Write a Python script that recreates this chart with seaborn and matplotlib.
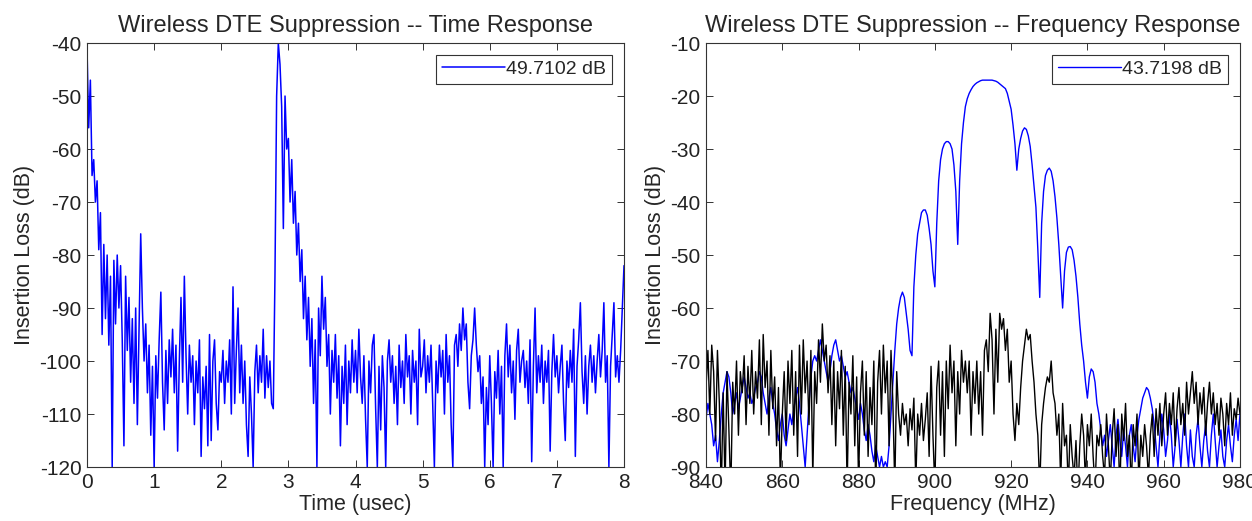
import numpy as np
import pandas as pd
import matplotlib
matplotlib.use("Agg")
from matplotlib import pyplot as plt
import seaborn as sns

# Time response (left): insertion loss sampled every 0.025 usec, 0..8 usec
time_start, time_end = 0.0, 8.0
time_loss_db = [
    -41, -56, -47, -65, -62, -70, -66, -79, -72, -95, -78, -92, -80, -97, -84, -120, -81, -93, -80, -90,
    -82, -96, -116, -84, -98, -88, -104, -92, -108, -90, -112, -94, -76, -90, -100, -93, -106, -97, -114, -101,
    -120, -99, -107, -96, -87, -104, -113, -98, -108, -96, -103, -94, -106, -97, -117, -100, -88, -104, -84, -99,
    -110, -97, -104, -99, -112, -100, -106, -96, -118, -103, -109, -101, -116, -95, -115, -100, -96, -108, -113, -102,
    -104, -98, -108, -100, -104, -96, -110, -86, -108, -98, -90, -106, -97, -108, -100, -112, -118, -103, -110, -120,
    -102, -97, -106, -99, -104, -94, -107, -99, -105, -100, -108, -109, -84, -50, -40, -44, -52, -75, -50, -60,
    -58, -70, -62, -74, -68, -80, -74, -85, -79, -92, -84, -96, -88, -101, -92, -108, -96, -120, -90, -99,
    -84, -94, -88, -101, -95, -110, -98, -104, -95, -107, -99, -116, -101, -108, -97, -112, -100, -106, -96, -104,
    -98, -106, -94, -103, -108, -99, -111, -120, -100, -106, -97, -95, -109, -120, -101, -113, -99, -105, -120, -100,
    -96, -104, -99, -108, -101, -112, -97, -105, -100, -108, -95, -103, -99, -110, -98, -104, -100, -112, -94, -103,
    -101, -96, -106, -99, -104, -97, -108, -120, -100, -106, -97, -103, -98, -110, -95, -104, -99, -112, -120, -97,
    -95, -101, -93, -98, -90, -96, -93, -104, -109, -99, -96, -90, -97, -102, -99, -108, -103, -120, -105, -112,
    -99, -108, -120, -102, -107, -98, -110, -101, -120, -99, -93, -103, -97, -106, -100, -111, -98, -94, -104, -100,
    -98, -105, -100, -108, -96, -119, -101, -90, -106, -99, -104, -97, -108, -100, -104, -98, -117, -102, -95, -103,
    -99, -106, -101, -97, -108, -115, -100, -105, -98, -104, -94, -118, -101, -96, -89, -102, -108, -99, -110, -101,
    -97, -104, -99, -106, -100, -95, -103, -98, -89, -104, -99, -120, -101, -95, -89, -103, -99, -104, -98, -90,
    -82,
]

# Frequency response (right): sampled every 0.5 MHz, 840..980 MHz
freq_start, freq_end = 840.0, 980.0
filter_db = [
    -81, -78, -80, -82, -86, -84, -89, -85, -80, -76,
    -74, -72, -73, -76, -80, -78, -76, -79, -77, -75,
    -73, -75, -77, -76, -78, -77, -75, -74, -72, -73,
    -76, -78, -80, -77, -75, -78, -80, -83, -85, -82,
    -80, -84, -86, -83, -80, -82, -79, -77, -75, -78,
    -82, -86, -90, -84, -78, -73, -70, -69, -70, -68,
    -66, -68, -70, -72, -74, -72, -69, -67, -66, -68,
    -70, -69, -71, -73, -72, -74, -76, -75, -77, -79,
    -81, -78, -80, -83, -85, -82, -84, -87, -89, -86,
    -88, -90, -88, -90, -89, -90, -86, -80, -74, -68,
    -63, -60, -58, -57, -58, -61, -64, -68, -69, -56,
    -50, -46, -44, -42, -41.5, -41.5, -42.5, -45, -48, -53,
    -56, -44, -36, -32, -30, -29, -28.6, -28.6, -29, -30,
    -33, -38, -48, -36, -29, -25, -22, -20.5, -19.5, -18.8,
    -18.2, -17.8, -17.5, -17.3, -17.1, -17.0, -17.0, -17.0, -17.0, -17.0,
    -17.0, -17.1, -17.2, -17.4, -17.7, -18.0, -18.3, -18.6, -19.5, -21.0,
    -22.5, -25.5, -29, -34, -30, -28, -26.6, -26, -26.3, -27.5,
    -29.5, -33, -37, -41, -49, -58, -44, -38, -35, -34,
    -33.6, -34.2, -36, -39, -43, -48, -54, -60, -53, -49.5,
    -48.5, -48.4, -49, -51, -54, -58, -63, -67, -70, -74,
    -77, -73, -71.5, -72, -74, -78, -80, -83, -86, -84,
    -88, -85, -82, -86, -90, -84, -81, -85, -88, -83,
    -86, -90, -84, -82, -86, -89, -84, -81, -79, -77,
    -76, -75, -75.5, -77, -79, -82, -86, -90, -84, -80,
    -83, -88, -85, -80, -84, -90, -86, -81, -85, -90,
    -84, -80, -86, -90, -83, -88, -90, -84, -81, -86,
    -90, -85, -82, -87, -90, -84, -80, -85, -90, -86,
    -83, -88, -90, -85, -82, -86, -89, -84, -81, -85,
    -80,
]
reference_db = [
    -75, -68, -80, -67, -72, -85, -68, -78, -95, -76,
    -94, -72, -83, -95, -74, -80, -70, -84, -72, -76,
    -69, -82, -71, -78, -68, -80, -72, -77, -66, -82,
    -65, -75, -70, -84, -68, -79, -73, -86, -75, -93,
    -80, -72, -85, -70, -78, -68, -84, -72, -88, -67,
    -80, -66, -76, -70, -82, -68, -92, -72, -78, -66,
    -74, -63, -70, -67, -76, -69, -82, -70, -86, -72,
    -79, -68, -84, -71, -94, -74, -80, -69, -86, -73,
    -93, -76, -70, -84, -72, -88, -75, -82, -70, -95,
    -74, -68, -80, -67, -76, -70, -86, -68, -78, -94,
    -72, -80, -84, -78, -82, -80, -86, -79, -83, -77,
    -93, -80, -84, -78, -85, -81, -76, -88, -71, -84,
    -94, -75, -70, -84, -72, -88, -70, -79, -67, -76,
    -70, -86, -72, -80, -68, -74, -70, -76, -70, -84,
    -72, -78, -70, -80, -72, -84, -68, -66, -72, -61,
    -66, -80, -64, -74, -61, -64, -62, -68, -64, -74,
    -70, -80, -85, -78, -82, -75, -70, -67, -64, -66,
    -65, -70, -74, -80, -84, -94, -82, -78, -75, -73,
    -74, -70, -76, -78, -84, -80, -93, -78, -86, -84,
    -94, -82, -88, -92, -85, -95, -86, -80, -84, -93,
    -82, -86, -80, -88, -94, -84, -86, -82, -88, -92,
    -80, -86, -93, -84, -79, -88, -82, -95, -80, -85,
    -78, -88, -84, -94, -82, -86, -80, -93, -84, -88,
    -82, -86, -92, -84, -80, -88, -79, -84, -78, -86,
    -80, -76, -84, -78, -82, -76, -86, -79, -75, -82,
    -78, -84, -74, -80, -76, -72, -78, -74, -82, -76,
    -80, -75, -84, -78, -74, -80, -76, -82, -78, -84,
    -77, -80, -86, -78, -82, -76, -84, -79, -81, -77,
    -80,
]

time_label = "49.7102 dB"
freq_label = "43.7198 dB"

time_df = pd.DataFrame({
    "t": np.linspace(time_start, time_end, len(time_loss_db)),
    "db": time_loss_db,
})
freq_df = pd.DataFrame({
    "f": np.linspace(freq_start, freq_end, len(filter_db)),
    "filt": filter_db,
    "ref": reference_db,
})

sns.set_style("ticks")
plt.rcParams["font.family"] = ["Liberation Sans", "DejaVu Sans"]
plt.rcParams["axes.unicode_minus"] = False

fig = plt.figure(figsize=(12.52, 5.21), dpi=100)
ax1 = fig.add_axes([0.0695, 0.1036, 0.4289, 0.8138])
ax2 = fig.add_axes([0.5639, 0.1036, 0.4265, 0.8138])

sns.lineplot(data=time_df, x="t", y="db", ax=ax1, color="#0000ff", lw=1.1,
             estimator=None, sort=False, label=time_label)

sns.lineplot(data=freq_df, x="f", y="filt", ax=ax2, color="#0000ff", lw=1.0,
             estimator=None, sort=False, label=freq_label)
sns.lineplot(data=freq_df, x="f", y="ref", ax=ax2, color="black", lw=1.0,
             estimator=None, sort=False)

ax1.set_xlim(0, 8)
ax1.set_ylim(-120, -40)
ax1.set_xticks(range(0, 9))
ax1.set_yticks(range(-120, -39, 10))
ax1.set_title("Wireless DTE Suppression -- Time Response", fontsize=17, pad=8)
ax1.set_xlabel("Time (usec)", fontsize=15.5, labelpad=2)
ax1.set_ylabel("Insertion Loss (dB)", fontsize=15.5, labelpad=3)

ax2.set_xlim(840, 980)
ax2.set_ylim(-90, -10)
ax2.set_xticks(range(840, 981, 20))
ax2.set_yticks(range(-90, -9, 10))
ax2.set_title("Wireless DTE Suppression -- Frequency Response", fontsize=17, pad=8)
ax2.set_xlabel("Frequency (MHz)", fontsize=15.5, labelpad=2)
ax2.set_ylabel("Insertion Loss (dB)", fontsize=15.5, labelpad=3)

for ax in (ax1, ax2):
    for sp in ax.spines.values():
        sp.set_visible(True)
        sp.set_color("#333333")
        sp.set_linewidth(0.8)
    ax.tick_params(direction="in", length=5, width=0.7, top=True, right=True,
                   labelsize=15, colors="#333333", labelcolor="#222222", pad=4)
    leg = ax.legend(loc="upper right", fontsize=14, fancybox=False, framealpha=1,
                    edgecolor="#333333", handlelength=3.2, handletextpad=0.1,
                    borderpad=0.3, borderaxespad=0.6)
    leg.get_frame().set_linewidth(0.8)

fig.savefig("out.png", dpi=100)
